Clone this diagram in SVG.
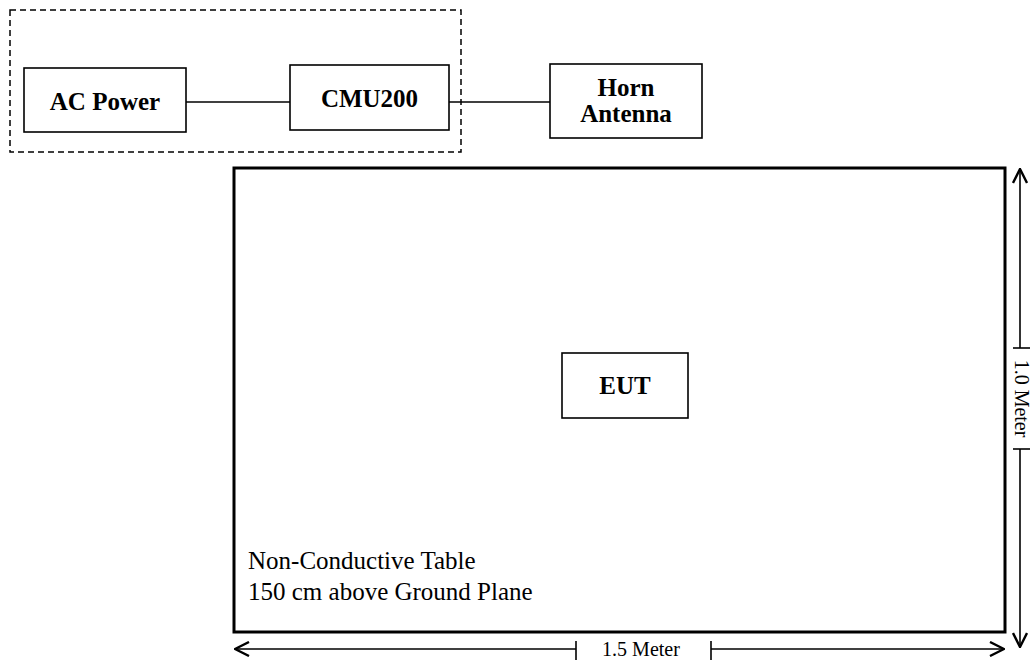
<svg xmlns="http://www.w3.org/2000/svg" width="1034" height="663" viewBox="0 0 1034 663">
<style>
.box{fill:#fff;stroke:#000;stroke-width:1.6}
.lbl{font-family:"Liberation Serif",serif;font-weight:bold;font-size:25px;text-anchor:middle;fill:#000}
.txt{font-family:"Liberation Serif",serif;font-size:25px;fill:#000}
.dim{font-family:"Liberation Serif",serif;font-size:20px;fill:#000;text-anchor:middle}
.ln{stroke:#000;stroke-width:1.6;fill:none}
</style>
<defs>
<marker id="ah" viewBox="0 0 16 16" refX="15" refY="8" markerWidth="16" markerHeight="16" markerUnits="userSpaceOnUse" orient="auto-start-reverse">
<path d="M1,1 L15,8 L1,15" fill="none" stroke="#000" stroke-width="2.4"/>
</marker>
</defs>
<g id="equipment-group">
<rect x="10" y="10" width="451" height="142" fill="none" stroke="#000" stroke-width="1.5" stroke-dasharray="6,4"/>
</g>
<g id="table">
<rect x="234" y="168" width="771" height="464" fill="#fff" stroke="#000" stroke-width="3"/>
<text class="txt" x="248" y="569">Non-Conductive Table</text>
<text class="txt" x="248" y="600">150 cm above Ground Plane</text>
</g>
<g id="connectors">
<line class="ln" x1="186" y1="102" x2="290" y2="102"/>
<line class="ln" x1="449" y1="102" x2="550" y2="102"/>
</g>
<g id="ac-power">
<rect class="box" x="24" y="68" width="162" height="64"/>
<text class="lbl" x="105" y="110">AC Power</text>
</g>
<g id="cmu200">
<rect class="box" x="290" y="65" width="159" height="65"/>
<text class="lbl" x="369.5" y="107">CMU200</text>
</g>
<g id="horn-antenna">
<rect class="box" x="550" y="64" width="152" height="74"/>
<text class="lbl" x="626" y="96">Horn</text>
<text class="lbl" x="626" y="122">Antenna</text>
</g>
<g id="eut">
<rect class="box" x="562" y="353" width="126" height="65"/>
<text class="lbl" x="625" y="394">EUT</text>
</g>
<g id="dimensions">
<line class="ln" x1="1020" y1="169" x2="1020" y2="348" marker-start="url(#ah)"/>
<line class="ln" x1="1020" y1="449" x2="1020" y2="647" marker-end="url(#ah)"/>
<line class="ln" x1="1013" y1="348" x2="1030" y2="348"/>
<line class="ln" x1="1013" y1="449" x2="1030" y2="449"/>
<text class="dim" transform="translate(1022,398.5) rotate(90)" y="7">1.0 Meter</text>
<line class="ln" x1="235" y1="649" x2="576" y2="649" marker-start="url(#ah)"/>
<line class="ln" x1="711" y1="649" x2="1004" y2="649" marker-end="url(#ah)"/>
<line class="ln" x1="576" y1="641" x2="576" y2="660"/>
<line class="ln" x1="711" y1="641" x2="711" y2="660"/>
<text class="dim" x="641" y="656">1.5 Meter</text>
</g>
</svg>
